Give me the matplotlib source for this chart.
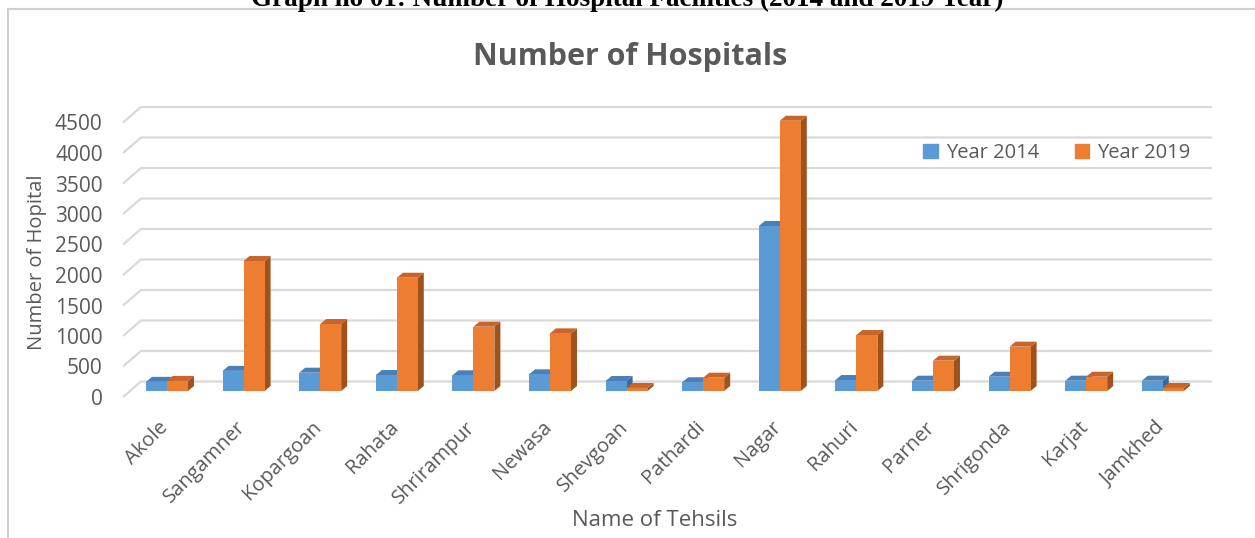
import matplotlib
matplotlib.use("Agg")
import matplotlib.pyplot as plt
from matplotlib.patches import Polygon, Rectangle
from matplotlib.lines import Line2D

# Hospital counts per tehsil
tehsils = ["Akole", "Sangamner", "Kopargoan", "Rahata", "Shrirampur", "Newasa",
           "Shevgoan", "Pathardi", "Nagar", "Rahuri", "Parner", "Shrigonda",
           "Karjat", "Jamkhed"]
year_2014 = [150, 330, 300, 262, 257, 273, 164, 143, 2705, 180, 169, 234, 169, 169]
year_2019 = [165, 2131, 1098, 1857, 1054, 945, 50, 218, 4430, 918, 497, 727, 234, 50]
y_ticks = [0, 500, 1000, 1500, 2000, 2500, 3000, 3500, 4000, 4500]

blue = "#5B9BD5"
orange = "#ED7D31"
blue_top, blue_side = "#4A80B5", "#3B6A98"
orange_top, orange_side = "#C9652A", "#A0521C"
text_grey = "#595959"
grid_grey = "#D9D9D9"

plt.rcParams['font.family'] = ['Open Sans', 'DejaVu Sans']

W, H = 1255, 538
fig = plt.figure(figsize=(W / 100, H / 100), dpi=100)

# axes placed so one category step is ~76.6 px and 500 hospitals ~30.5 px
xlim = (-0.8, 13.8)
ylim = (-300, 4700)
px_x = 76.6
px_y = 0.061
left = (167 + xlim[0] * px_x) / W
width = (xlim[1] - xlim[0]) * px_x / W
bottom = 1 - (391 - ylim[0] * px_y) / H
height = (ylim[1] - ylim[0]) * px_y / H
ax = fig.add_axes([left, bottom, width, height])
ax.set_xlim(*xlim)
ax.set_ylim(*ylim)
ax.axis("off")

# depth offsets for the fake 3D look (in data units)
ux = 1 / px_x
uy = 1 / px_y
back_dy = 9.5 * uy
front_dy = -6 * uy
x_front, x_back, x_end = -0.574, -0.34, 13.64

for v in y_ticks:
    ax.plot([x_front, x_back, x_end], [v + front_dy, v + back_dy, v + back_dy],
            color=grid_grey, lw=1.6, zorder=1, solid_capstyle="butt")
    ax.text(-0.84, v + front_dy, str(v), ha="right", va="center_baseline",
            fontsize=15, color=text_grey)

bw = 0.274
dx = 6 * ux
dy = 5 * uy


def draw_bar(x0, v, front, top, side):
    x1 = x0 + bw
    ax.add_patch(Polygon([(x1, 0), (x1, v), (x1 + dx, v + dy), (x1 + dx, dy)],
                         closed=True, facecolor=side, edgecolor="none", zorder=3))
    ax.add_patch(Polygon([(x0, v), (x1, v), (x1 + dx, v + dy), (x0 + dx, v + dy)],
                         closed=True, facecolor=top, edgecolor="none", zorder=3))
    ax.bar(x0, v, width=bw, align="edge", color=front, zorder=3)


for i, (a, b) in enumerate(zip(year_2014, year_2019)):
    draw_bar(i - bw, a, blue, blue_top, blue_side)
    draw_bar(i, b, orange, orange_top, orange_side)

for i, name in enumerate(tehsils):
    ax.text(i - 0.11, -430, name, rotation=45, rotation_mode="anchor",
            ha="right", va="top", fontsize=14.5, color=text_grey)

# titles and axis labels
fig.text(630 / W, 1 - 57 / H, "Number of Hospitals", ha="center", va="center",
         fontsize=22, fontweight="bold", color=text_grey)
fig.text(37 / W, 1 - 262 / H, "Number of Hopital", rotation=90, ha="center",
         va="center", fontsize=14.5, color=text_grey)
fig.text(655 / W, 1 - 520 / H, "Name of Tehsils", ha="center", va="center",
         fontsize=16, color=text_grey)

# legend
handles = [Rectangle((0, 0), 1, 1, color=blue), Rectangle((0, 0), 1, 1, color=orange)]
fig.legend(handles, ["Year 2014", "Year 2019"], loc="center",
           bbox_to_anchor=(1057 / W, 1 - 153 / H), ncol=2, frameon=False,
           fontsize=14.5, handlelength=0.7, handleheight=0.7, handletextpad=0.4,
           columnspacing=1.8, labelcolor=text_grey)

# chart frame and the caption above it
fig.add_artist(Line2D([8 / W, 1], [1 - 9 / H, 1 - 9 / H], color="#D0D0D0", lw=1.5))
fig.add_artist(Line2D([8 / W, 8 / W], [0, 1 - 9 / H], color="#D0D0D0", lw=1.5))
fig.text(627 / W, 1 - 6 / H, "Graph no 01: Number of Hospital Facilities (2014 and 2019 Year)",
         ha="center", va="baseline", fontsize=19.5, fontweight="bold",
         family="Liberation Serif", color="black")

fig.savefig("out.png", dpi=100)
